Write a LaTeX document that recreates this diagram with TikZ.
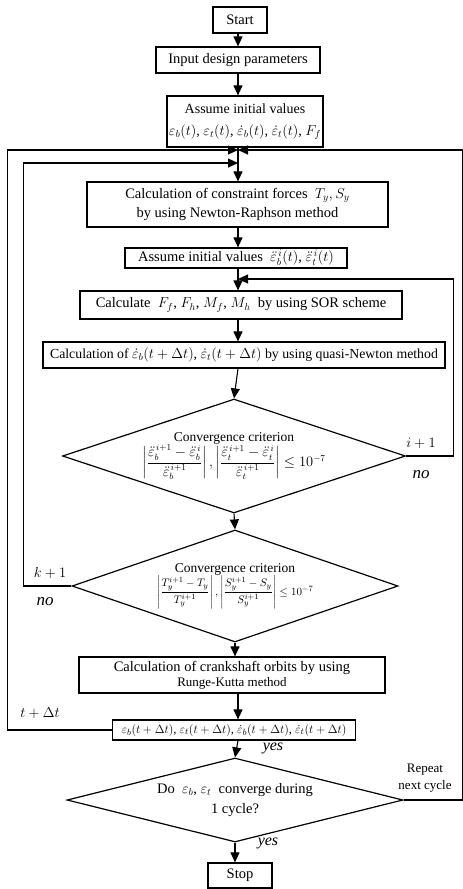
\documentclass[tikz,border=0pt]{standalone}
\usepackage{amsmath,amssymb}
\usepackage{fontspec}
\setmainfont{Liberation Serif}
\usetikzlibrary{shapes.geometric}
\usetikzlibrary{arrows.meta}
\tikzstyle{block}=[draw, line width=1.2pt, align=center, inner sep=2pt, font=\fontsize{14.5}{20}\selectfont]
\tikzstyle{decision}=[draw, diamond, line width=1.2pt, inner sep=0pt]
\tikzstyle{flow}=[line width=1.1pt, -{Triangle[length=10pt,width=9pt]}]
\tikzstyle{tag}=[font=\fontsize{15}{17}\selectfont\itshape, inner sep=0pt]
\newcommand{\relerr}[3]{\left|\dfrac{#1-#2}{#3}\right|} % |(new - old)/new|

\begin{document}
\begin{tikzpicture}[x=1pt,y=-1pt]
\useasboundingbox (0,0) rectangle (463,889);
\coordinate (col) at (238,0); % main column
% boxes
\node[block, minimum width=54pt, minimum height=26pt] (start) at (240,20) {Start};
\node[block, minimum width=164pt, minimum height=26pt] (input) at (238,60) {Input design parameters};
\node[block, minimum width=134pt, minimum height=51pt, font=\fontsize{14}{22}\selectfont] (init) at (245,121.5) {Assume initial values\\
	$\varepsilon_b(t)$, $\varepsilon_t(t)$, $\dot\varepsilon_b(t)$, $\dot\varepsilon_t(t)$, $F_f$};
\node[block, minimum width=301pt, minimum height=45pt] (constr) at (237.5,204.5) {Calculation of constraint forces \ $T_y, S_y$\\[-1pt]
	by using Newton-Raphson method};
\node[block, minimum width=222pt, minimum height=20pt, inner sep=0pt] (initacc) at (236,258) {Assume initial values \ $\ddot\varepsilon_b^{\,i}(t)$, $\ddot\varepsilon_t^{\,i}(t)$};
\node[block, minimum width=322pt, minimum height=28pt] (sor) at (241,305) {Calculate \ $F_f$, $F_h$, $M_f$, $M_h$ \ by using SOR scheme};
\node[block, minimum width=402pt, minimum height=26pt, inner sep=0pt, font=\fontsize{13.8}{16}\selectfont] (quasi) at (244,355) {Calculation of $\dot\varepsilon_b(t+\Delta t)$, $\dot\varepsilon_t(t+\Delta t)$ by using quasi-Newton method};
% criteria
\node[decision, minimum width=343pt, minimum height=114pt] (conv1) at (234,456) {};
\node[align=center, font=\fontsize{13.5}{16}\selectfont] (conv1txt) at (conv1) {Convergence criterion\\
	$\relerr{\ddot\varepsilon_b^{\,i+1}}{\ddot\varepsilon_b^{\,i}}{\ddot\varepsilon_b^{\,i+1}},
	\relerr{\ddot\varepsilon_t^{\,i+1}}{\ddot\varepsilon_t^{\,i}}{\ddot\varepsilon_t^{\,i+1}}\le 10^{-7}$};
\node[decision, minimum width=326pt, minimum height=112pt] (conv2) at (235,586) {};
\node[align=center, font=\fontsize{13.5}{16}\selectfont] (conv2txt) at (conv2) {Convergence criterion\\
	{\fontsize{11}{13}\selectfont$\relerr{T_y^{i+1}}{T_y}{T_y^{i+1}},
	\relerr{S_y^{i+1}}{S_y}{S_y^{i+1}}\le 10^{-7}$}};
\node[block, minimum width=306pt, minimum height=36pt, inner sep=0pt] (orbit) at (232,675) {Calculation of crankshaft orbits by using\\[-5pt]
	{\fontsize{13}{14}\selectfont Runge-Kutta method}};
\node[block, minimum width=243pt, minimum height=20pt, inner sep=0pt, font=\fontsize{12.5}{14}\selectfont] (state) at (234,730)
	{$\varepsilon_b(t+\Delta t)$, $\varepsilon_t(t+\Delta t)$, $\dot\varepsilon_b(t+\Delta t)$, $\dot\varepsilon_t(t+\Delta t)$};
\node[decision, minimum width=336pt, minimum height=84pt] (cycle) at (235,800) {};
\node[align=center, font=\fontsize{14.5}{20}\selectfont] (cycletxt) at (cycle) {Do \ $\varepsilon_b$, $\varepsilon_t$ \ converge during\\ 1 cycle?};
\node[block, minimum width=64pt, minimum height=25pt] (stop) at (240,875.5) {Stop};
% joints where the loops come back
\coordinate (joinT) at (238,150);
\coordinate (joinK) at (238,163);
\coordinate (joinI) at (238,279);
% main flow
\draw[flow] (start.south -| col) -- (input.north -| col);
\draw[flow] (input.south -| col) -- (init.north -| col);
\draw[flow] (init.south -| col) -- (constr.north -| col);
\draw[flow] (constr.south -| col) -- (initacc.north -| col);
\draw[flow] (initacc.south -| col) -- (sor.north -| col);
\draw[flow] (sor.south -| col) -- (quasi.north -| col);
\draw[flow] (quasi.south -| col) -- (conv1.north);
\draw[flow] (conv1.south) -- (conv2.north);
\draw[flow] (conv2.south) -- (orbit.north -| conv2.south);
\draw[flow] (orbit.south -| col) -- (state.north -| col);
\draw[flow] (state.south -| col) -- (cycle.north);
\draw[flow] (cycle.south) -- (stop.north -| cycle.south);
% loops
\draw[flow] (conv1.east) -- ++(47,0) |- (joinI);
\draw[flow] (conv2.west) -- ++(-48,0) |- (joinK);
\draw[flow] (state.west) -- ++(-104,0) |- (joinT);
\draw[flow] (cycle.east) -- ++(59,0) |- (joinT);
% labels
\node[tag, font=\fontsize{14}{16}\selectfont] (iplus) at (421,443) {$i+1$};
\node[tag, font=\fontsize{17}{19}\selectfont\itshape] (ino) at (421,475) {no};
\node[tag, font=\fontsize{14}{16}\selectfont] (kplus) at (50,573) {$k+1$};
\node[tag, font=\fontsize{17}{19}\selectfont\itshape] (kno) at (45,602) {no};
\node[tag, font=\fontsize{14}{16}\selectfont] (tplus) at (40,713) {$t+\Delta t$};
\node[tag, font=\fontsize{16}{18}\selectfont\itshape] (yes1) at (273,748) {yes};
\node[tag, font=\fontsize{16}{18}\selectfont\itshape] (yes2) at (268,843) {yes};
\node[align=center, inner sep=0pt, font=\fontsize{13}{17}\selectfont] (repeat) at (425,778) {Repeat\\next cycle};
\end{tikzpicture}
\end{document}
